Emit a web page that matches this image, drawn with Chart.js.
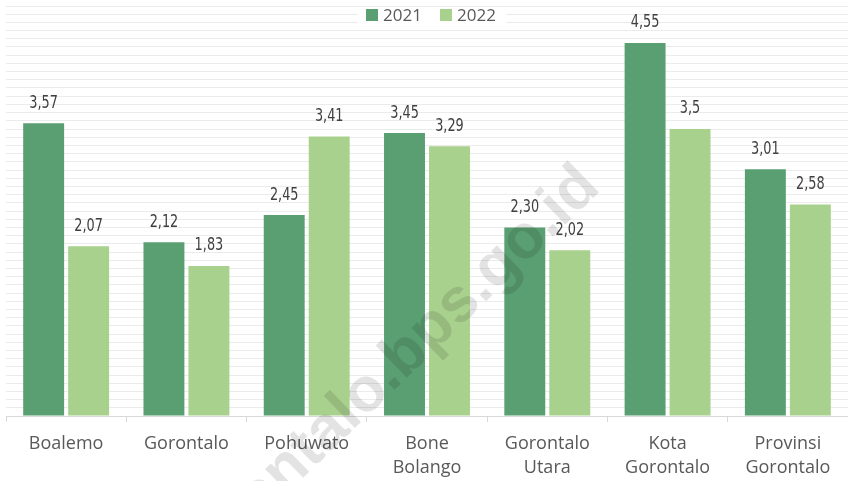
<!DOCTYPE html>
<html>
<head>
<meta charset="utf-8">
<script src="https://cdn.jsdelivr.net/npm/chart.js@4"></script>
<style>
  html, body { margin: 0; padding: 0; background: #fff; }
  #wrap { width: 848px; height: 481px; }
</style>
</head>
<body>
<div id="wrap"><canvas id="myChart"></canvas></div>
<script>
const categories = [['Boalemo'], ['Gorontalo'], ['Pohuwato'], ['Bone', 'Bolango'], ['Gorontalo', 'Utara'], ['Kota', 'Gorontalo'], ['Provinsi', 'Gorontalo']];
const values2021 = [3.57, 2.12, 2.45, 3.45, 2.30, 4.55, 3.01];
const values2022 = [2.07, 1.83, 3.41, 3.29, 2.02, 3.5, 2.58];
const labels2021 = ['3,57', '2,12', '2,45', '3,45', '2,30', '4,55', '3,01'];
const labels2022 = ['2,07', '1,83', '3,41', '3,29', '2,02', '3,5', '2,58'];
const seriesNames = ['2021', '2022'];
const colors = ['#5a9f72', '#a9d18e'];

const valueLabels = {
  id: 'valueLabels',
  afterDatasetsDraw(chart) {
    const ctx = chart.ctx;
    const texts = [labels2021, labels2022];
    ctx.font = '17px "DejaVu Sans Condensed", "DejaVu Sans", sans-serif';
    ctx.fillStyle = '#404040';
    ctx.textAlign = 'center';
    ctx.textBaseline = 'middle';
    chart.data.datasets.forEach((ds, i) => {
      chart.getDatasetMeta(i).data.forEach((bar, j) => {
        // squeeze a bit, the original labels use a narrow face
        ctx.save();
        ctx.translate(bar.x, bar.y - 20);
        ctx.scale(0.84, 1);
        ctx.fillText(texts[i][j], 0, 0);
        ctx.restore();
      });
    });
  }
};

const watermark = {
  id: 'watermark',
  afterDraw(chart) {
    const ctx = chart.ctx;
    ctx.save();
    ctx.translate(382, 378);
    ctx.rotate(-44 * Math.PI / 180);
    ctx.font = 'bold 62px "Liberation Sans", Arial, sans-serif';
    ctx.fillStyle = 'rgba(0,0,0,0.11)';
    ctx.textAlign = 'center';
    ctx.textBaseline = 'middle';
    ctx.fillText('gorontalo.bps.go.id', 0, 0);
    ctx.restore();
  }
};

const topLegend = {
  id: 'topLegend',
  afterDraw(chart) {
    const ctx = chart.ctx;
    ctx.save();
    ctx.fillStyle = '#fff';
    ctx.fillRect(358, 8, 148, 19);
    ctx.font = '17px "Open Sans", sans-serif';
    ctx.textBaseline = 'middle';
    ctx.textAlign = 'left';
    let x = 366;
    seriesNames.forEach((name, i) => {
      ctx.fillStyle = colors[i];
      ctx.fillRect(x, 9, 12, 12);
      ctx.fillStyle = '#595959';
      ctx.fillText(name, x + 17, 16);
      x += 74;
    });
    ctx.restore();
  }
};

new Chart(document.getElementById('myChart'), {
  type: 'bar',
  data: {
    labels: categories,
    datasets: [
      { label: seriesNames[0], data: values2021, backgroundColor: colors[0] },
      { label: seriesNames[1], data: values2022, backgroundColor: colors[1] }
    ]
  },
  options: {
    responsive: true,
    maintainAspectRatio: false,
    animation: false,
    datasets: { bar: { categoryPercentage: 0.748, barPercentage: 0.91 } },
    layout: { padding: { left: 6, right: 0, top: 6, bottom: 0 } },
    plugins: { legend: { display: false }, tooltip: { enabled: false } },
    scales: {
      x: {
        afterFit: s => { s.height = 65; },
        grid: { offset: true, drawOnChartArea: false, drawTicks: true, tickLength: 6, color: '#d9d9d9' },
        border: { display: true, color: '#d9d9d9', width: 1 },
        ticks: { padding: 10, color: '#595959', font: { family: '"Open Sans", sans-serif', size: 18, lineHeight: 1.33 }, maxRotation: 0, autoSkip: false }
      },
      y: {
        min: 0,
        max: 5,
        afterFit: s => { s.width = 0; },
        afterBuildTicks: s => {
          const t = [];
          for (let k = 0; k <= 50; k++) t.push({ value: k / 10 });
          s.ticks = t;
        },
        grid: { drawTicks: false, color: '#ebebeb', lineWidth: 1 },
        border: { display: false },
        ticks: { display: false }
      }
    }
  },
  plugins: [valueLabels, topLegend, watermark]
});
</script>
</body>
</html>
